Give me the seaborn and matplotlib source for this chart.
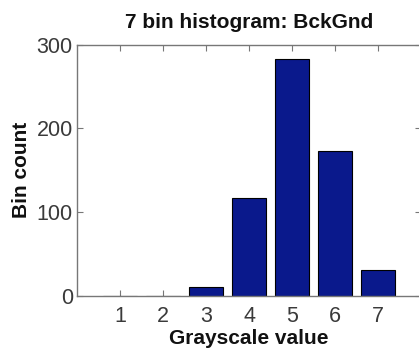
import matplotlib
matplotlib.use("Agg")
import matplotlib.pyplot as plt
import seaborn as sns
import pandas as pd

bins = [1, 2, 3, 4, 5, 6, 7]
counts = [0, 0, 11, 117, 283, 173, 31]
yticks = [0, 100, 200, 300]

sns.set_theme(style="white")
plt.rcParams['font.family'] = ['Liberation Sans', 'DejaVu Sans']

df = pd.DataFrame({"bin": bins, "count": counts})

fig = plt.figure(figsize=(4.19, 3.51), dpi=100)
ax = fig.add_axes([77/419, 1 - 296/351, 1.005 - 77/419, (296 - 44.7)/351])

sns.barplot(data=df, x="bin", y="count", native_scale=True, width=0.8,
            color="#0A198C", saturation=1, edgecolor="black", linewidth=0.8, ax=ax)

ax.set_xlim(0, 8)
ax.set_ylim(0, 300)
ax.set_xticks(bins)
ax.set_xticklabels([str(b) for b in bins])
ax.set_yticks(yticks)
ax.set_yticklabels([str(t) for t in yticks])

for s in ax.spines.values():
    s.set_visible(True)
    s.set_color("#777777")
    s.set_linewidth(1.0)

ax.tick_params(axis="both", which="both", direction="in", length=4, width=0.8,
               color="#777777", labelsize=15.5, labelcolor="#3a3a3a",
               top=True, right=True, bottom=True, left=True)
ax.tick_params(axis="x", pad=7)
ax.tick_params(axis="y", pad=3)

ax.set_title("7 bin histogram: BckGnd", fontsize=15, fontweight="bold", pad=12, color="#111111")
ax.set_xlabel("Grayscale value", fontsize=15, fontweight="bold", labelpad=2, color="#111111")
ax.set_ylabel("Bin count", fontsize=15, fontweight="bold", labelpad=4, color="#111111")

fig.savefig("out.png", dpi=100)
